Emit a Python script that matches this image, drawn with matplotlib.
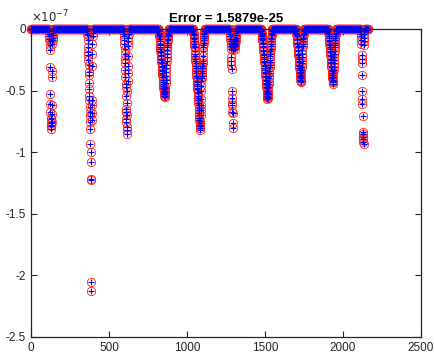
"""
Error plot: two nearly identical solutions overlaid (red circles, blue plus).
"""

import numpy as np
import matplotlib
matplotlib.use("Agg")
import matplotlib.pyplot as plt
from matplotlib.ticker import FuncFormatter

plt.rcParams["font.family"] = ["Liberation Sans", "DejaVu Sans"]

# ---------------------------------------------------------------------------
# Data (values in units of 1e-7)
# ---------------------------------------------------------------------------
N_POINTS = 2162
SCALE = 1e-7

DIP_CENTERS = [128, 378, 610, 850, 1075, 1295, 1510, 1724, 1930, 2125]

DIP_1 = [-0.02, -0.04, -0.06, -0.08, -0.10, -0.13, -0.17, -0.31, -0.53, -0.61,
         -0.67, -0.72, -0.73, -0.76, -0.78, -0.81, -0.79, -0.755, -0.69, -0.62,
         -0.39, -0.34, -0.12, -0.09, -0.07, -0.05, -0.03, -0.015]
DIP_2 = [-0.02, -0.04, -0.05, -0.09, -0.146, -0.187, -0.21, -0.25, -0.295,
         -0.35, -0.376, -0.44, -0.485, -0.54, -0.58, -0.63, -0.67, -0.71,
         -0.755, -0.81, -0.93, -1.0, -1.08, -1.215, -1.225, -2.055, -2.13,
         -0.74, -0.68, -0.617, -0.576, -0.30, -0.20, -0.12, -0.06, -0.03]
DIP_3 = [-0.02, -0.04, -0.06, -0.09, -0.12, -0.16, -0.20, -0.24, -0.28,
         -0.335, -0.39, -0.444, -0.47, -0.54, -0.647, -0.674, -0.728, -0.755,
         -0.795, -0.82, -0.85, -0.70, -0.60, -0.50, -0.42, -0.36, -0.30,
         -0.22, -0.14, -0.10, -0.07, -0.04, -0.02]
DIP_4 = [-0.01, -0.02, -0.03, -0.04, -0.05, -0.06, -0.08, -0.10, -0.12, -0.13,
         -0.15, -0.16, -0.18, -0.19, -0.21, -0.22, -0.24, -0.25, -0.27, -0.28,
         -0.30, -0.31, -0.33, -0.34, -0.36, -0.37, -0.39, -0.41, -0.43, -0.45,
         -0.46, -0.48, -0.49, -0.50, -0.51, -0.52, -0.53, -0.54, -0.55, -0.54,
         -0.53, -0.51, -0.50, -0.48, -0.47, -0.44, -0.41, -0.38, -0.35, -0.32,
         -0.29, -0.26, -0.23, -0.20, -0.17, -0.15, -0.13, -0.11, -0.09, -0.08,
         -0.06, -0.05, -0.04, -0.03, -0.02, -0.01]
DIP_5 = [-0.01, -0.02, -0.03, -0.04, -0.05, -0.07, -0.08, -0.10, -0.12, -0.14,
         -0.15, -0.18, -0.20, -0.22, -0.24, -0.26, -0.28, -0.30, -0.32, -0.34,
         -0.36, -0.38, -0.40, -0.42, -0.43, -0.45, -0.46, -0.48, -0.49, -0.51,
         -0.52, -0.54, -0.56, -0.58, -0.60, -0.62, -0.64, -0.66, -0.68, -0.70,
         -0.72, -0.74, -0.76, -0.78, -0.80, -0.82, -0.79, -0.75, -0.70, -0.66,
         -0.62, -0.57, -0.50, -0.46, -0.42, -0.40, -0.38, -0.36, -0.34, -0.32,
         -0.30, -0.28, -0.26, -0.22, -0.18, -0.15, -0.13, -0.11, -0.09, -0.07,
         -0.06, -0.04, -0.03, -0.02]
DIP_6 = [-0.02, -0.04, -0.06, -0.08, -0.10, -0.12, -0.14, -0.16, -0.225,
         -0.26, -0.295, -0.325, -0.50, -0.56, -0.60, -0.62, -0.67, -0.68,
         -0.76, -0.80, -0.15, -0.13, -0.17, -0.11, -0.09, -0.12, -0.14, -0.10,
         -0.12, -0.15, -0.13, -0.11, -0.16, -0.14, -0.12, -0.09, -0.08, -0.10,
         -0.07, -0.05, -0.03, -0.02]
DIP_7 = [-0.01, -0.02, -0.03, -0.04, -0.05, -0.06, -0.07, -0.08, -0.09, -0.11,
         -0.12, -0.14, -0.15, -0.17, -0.18, -0.20, -0.21, -0.23, -0.24, -0.26,
         -0.27, -0.29, -0.30, -0.32, -0.33, -0.35, -0.36, -0.38, -0.39, -0.41,
         -0.42, -0.44, -0.45, -0.47, -0.48, -0.50, -0.51, -0.53, -0.54, -0.555,
         -0.566, -0.56, -0.55, -0.53, -0.52, -0.50, -0.47, -0.45, -0.43, -0.40,
         -0.38, -0.36, -0.34, -0.31, -0.29, -0.27, -0.25, -0.22, -0.20, -0.18,
         -0.16, -0.14, -0.12, -0.10, -0.08, -0.07, -0.05, -0.04, -0.03, -0.02,
         -0.01]
DIP_8 = [-0.01, -0.02, -0.03, -0.04, -0.05, -0.06, -0.08, -0.09, -0.11, -0.12,
         -0.14, -0.15, -0.17, -0.18, -0.20, -0.21, -0.23, -0.24, -0.26, -0.27,
         -0.29, -0.30, -0.32, -0.33, -0.35, -0.36, -0.38, -0.39, -0.41, -0.42,
         -0.43, -0.42, -0.40, -0.37, -0.35, -0.33, -0.31, -0.28, -0.26, -0.23,
         -0.20, -0.17, -0.14, -0.12, -0.10, -0.08, -0.07, -0.05, -0.04, -0.03,
         -0.02, -0.01]
DIP_9 = [-0.01, -0.02, -0.03, -0.04, -0.06, -0.07, -0.09, -0.10, -0.12, -0.13,
         -0.15, -0.16, -0.18, -0.19, -0.21, -0.22, -0.24, -0.25, -0.27, -0.28,
         -0.30, -0.31, -0.33, -0.34, -0.36, -0.37, -0.39, -0.40, -0.42, -0.43,
         -0.445, -0.43, -0.41, -0.39, -0.36, -0.33, -0.31, -0.28, -0.25, -0.23,
         -0.20, -0.18, -0.15, -0.13, -0.11, -0.09, -0.07, -0.06, -0.04, -0.03,
         -0.02, -0.01]
DIP_10 = [-0.02, -0.04, -0.06, -0.09, -0.12, -0.21, -0.24, -0.28, -0.37, -0.50,
          -0.57, -0.605, -0.71, -0.835, -0.85, -0.875, -0.895, -0.915, -0.93,
          -0.13, -0.10, -0.07, -0.04, -0.02]

DIPS = [DIP_1, DIP_2, DIP_3, DIP_4, DIP_5, DIP_6, DIP_7, DIP_8, DIP_9, DIP_10]

TITLE = "Error = 1.5879e-25"
X_TICKS = [0, 500, 1000, 1500, 2000, 2500]
Y_TICKS = [0, -0.5, -1, -1.5, -2, -2.5]


def build_series():
    y = np.zeros(N_POINTS)
    for center, vals in zip(DIP_CENTERS, DIPS):
        start = center - len(vals) // 2
        y[start:start + len(vals)] = vals
    return np.arange(1, N_POINTS + 1), y * SCALE


def main():
    x, y = build_series()

    fig = plt.figure(figsize=(4.34, 3.61), dpi=100)
    ax = fig.add_axes([0.0714, 0.0665, 0.8986, 0.8532])

    ax.plot(x, y, "o", color="#ff2020", mfc="none", ms=6, mew=0.6,
            clip_on=False)
    ax.plot(x, y, "+", color="blue", ms=4, mew=0.8, clip_on=False)

    ax.set_xlim(0, 2500)
    ax.set_ylim(-2.5 * SCALE, 0)
    ax.set_xticks(X_TICKS)
    ax.set_yticks([t * SCALE for t in Y_TICKS])
    ax.yaxis.set_major_formatter(FuncFormatter(lambda v, p: f"{v / SCALE:g}"))

    ax.tick_params(direction="in", length=4, width=0.8, labelsize=8.5,
                   top=True, right=True, colors="#262626", labelcolor="#262626")
    for s in ax.spines.values():
        s.set_linewidth(0.9)
        s.set_color("#262626")

    ax.text(0.0, 1.012, r"$\times10^{-7}$", transform=ax.transAxes,
            fontsize=8.5, color="#262626", ha="left", va="bottom")
    ax.set_title(TITLE, fontsize=9.5, fontweight="bold", pad=5)

    fig.savefig("out.png", dpi=100)
    plt.close(fig)


if __name__ == "__main__":
    main()
